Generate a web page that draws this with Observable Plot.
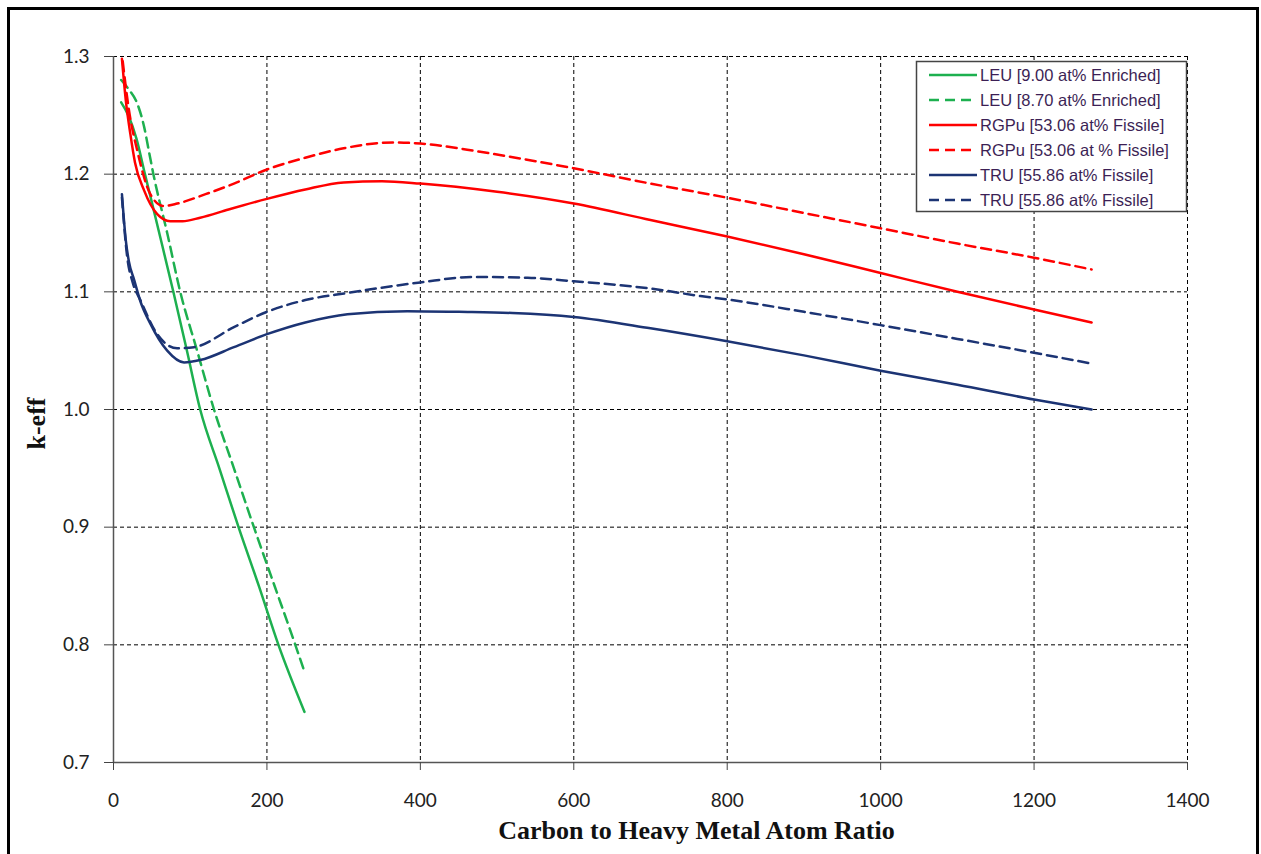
<!DOCTYPE html>
<html>
<head>
<meta charset="utf-8">
<script src="https://cdn.jsdelivr.net/npm/d3@7"></script>
<script src="https://cdn.jsdelivr.net/npm/@observablehq/plot@0.6"></script>
<style>
  html, body { margin: 0; padding: 0; background: #fff; }
  #wrap { position: relative; width: 1261px; height: 854px; overflow: hidden; }
  #border { position: absolute; left: 7px; top: 7px; width: 1252px; height: 900px;
            box-sizing: border-box; border: 3px solid #000; pointer-events: none; }
  #chart svg { display: block; }
</style>
</head>
<body>
<div id="wrap">
  <div id="chart"></div>
  <div id="border"></div>
</div>
<script>
// Axis ticks
const xTicks = [0, 200, 400, 600, 800, 1000, 1200, 1400];
const yTicks = [0.7, 0.8, 0.9, 1.0, 1.1, 1.2, 1.3];

// LEU, 9.00 at% enriched
const xLEU900 = [10, 20, 30, 41, 50, 60, 78, 95, 113, 138, 163, 190, 215, 249];
const yLEU900 = [1.261, 1.249, 1.230, 1.200, 1.176, 1.149, 1.100, 1.052, 1.000, 0.950, 0.900, 0.849, 0.800, 0.743];

// LEU, 8.70 at% enriched
const xLEU870 = [10, 20, 31, 40, 46, 52, 70, 87, 109, 131, 157, 183, 210, 237, 249];
const yLEU870 = [1.280, 1.272, 1.260, 1.240, 1.220, 1.200, 1.150, 1.100, 1.050, 1.000, 0.950, 0.900, 0.850, 0.800, 0.777];

// RGPu, 53.06 at% fissile (solid)
const xRGPuA = [11, 16, 22, 28, 40, 57, 74, 90, 113, 150, 200, 250, 300, 350, 400, 500, 600, 700, 800, 900, 1000, 1100, 1200, 1275];
const yRGPuA = [1.298, 1.263, 1.234, 1.210, 1.186, 1.166, 1.160, 1.160, 1.163, 1.170, 1.179, 1.187, 1.193, 1.194, 1.192, 1.185, 1.175, 1.161, 1.147, 1.132, 1.116, 1.100, 1.085, 1.074];

// RGPu, 53.06 at % fissile (dashed)
const xRGPuB = [12, 20, 31, 48, 65, 83, 120, 157, 200, 250, 300, 365, 400, 478, 550, 600, 700, 800, 900, 1000, 1100, 1200, 1275];
const yRGPuB = [1.296, 1.255, 1.220, 1.183, 1.173, 1.175, 1.183, 1.192, 1.204, 1.214, 1.222, 1.227, 1.226, 1.219, 1.211, 1.205, 1.192, 1.180, 1.167, 1.154, 1.141, 1.129, 1.119];

// TRU, 55.86 at% fissile (solid)
const xTRUA = [11, 16, 20, 27, 35, 48, 70, 92, 113, 157, 200, 250, 305, 383, 450, 520, 600, 700, 800, 900, 1000, 1100, 1200, 1275];
const yTRUA = [1.183, 1.144, 1.126, 1.110, 1.092, 1.073, 1.050, 1.040, 1.042, 1.053, 1.064, 1.074, 1.081, 1.0836, 1.083, 1.082, 1.0786, 1.069, 1.058, 1.046, 1.033, 1.021, 1.0085, 1.000];

// TRU, 55.86 at% fissile (dashed)
const xTRUB = [11, 18, 25, 35, 57, 83, 105, 157, 200, 250, 305, 400, 470, 540, 600, 709, 765, 800, 900, 1000, 1100, 1200, 1275];
const yTRUB = [1.180, 1.129, 1.108, 1.093, 1.064, 1.052, 1.053, 1.070, 1.083, 1.093, 1.099, 1.108, 1.1127, 1.112, 1.109, 1.102, 1.0964, 1.0935, 1.083, 1.0717, 1.060, 1.0482, 1.039];

// Series names and styles
const seriesNames = [
  "LEU [9.00 at% Enriched]",
  "LEU [8.70 at% Enriched]",
  "RGPu [53.06 at% Fissile]",
  "RGPu [53.06 at % Fissile]",
  "TRU [55.86 at% Fissile]",
  "TRU [55.86 at% Fissile]"
];
const seriesColors = ["#1db04f", "#1db04f", "#ff0000", "#ff0000", "#1c3474", "#1c3474"];
const seriesDashes = [null, "10,6", null, "10,6", null, "10,6"];
const seriesX = [xLEU900, xLEU870, xRGPuA, xRGPuB, xTRUA, xTRUB];
const seriesY = [yLEU900, yLEU870, yRGPuA, yRGPuB, yTRUA, yTRUB];

const series = seriesNames.map((name, i) =>
  seriesX[i].map((x, j) => ({x, y: seriesY[i][j], id: i}))
);

const tickFont = "Lato, 'Open Sans', sans-serif";
const titleFont = "'Liberation Serif', 'DejaVu Serif', serif";

const plot = Plot.plot({
  width: 1261,
  height: 854,
  marginLeft: 113,
  marginRight: 74,
  marginTop: 56,
  marginBottom: 92,
  style: {background: "transparent", overflow: "visible", fontFamily: tickFont, fontSize: "19px"},
  x: {domain: [0, 1400]},
  y: {domain: [0.7, 1.3]},
  marks: [
    Plot.gridX(xTicks.filter(d => d > 0), {stroke: "#000", strokeOpacity: 1, strokeDasharray: "4,3"}),
    Plot.gridY(yTicks.filter(d => d > 0.7), {stroke: "#000", strokeOpacity: 1, strokeDasharray: "4,3"}),
    Plot.ruleY([0.7], {stroke: "#555", strokeWidth: 1.5}),
    Plot.ruleX([0], {stroke: "#555", strokeWidth: 1.5}),
    Plot.axisX({ticks: xTicks, tickSize: 8, tickPadding: 23, label: null,
      tickFormat: d => String(d),
      stroke: "#444", fill: "#222", fontSize: 19, fontFamily: tickFont}),
    Plot.axisY({ticks: yTicks, tickSize: 9, tickPadding: 15, label: null,
      tickFormat: d3.format(".1f"),
      stroke: "#444", fill: "#222", fontSize: 19, fontFamily: tickFont}),
    ...series.map((data, i) => Plot.line(data, {
      x: "x", y: "y",
      stroke: seriesColors[i],
      strokeWidth: 2.5,
      strokeDasharray: seriesDashes[i],
      curve: "monotone-x",
      clip: true
    })),
    Plot.text(["Carbon to Heavy Metal Atom Ratio"], {
      frameAnchor: "bottom", dx: 46, dy: 68, lineAnchor: "middle",
      fontFamily: titleFont, fontWeight: "bold", fontSize: 26, fill: "#111"
    }),
    Plot.text(["k-eff"], {
      frameAnchor: "left", dx: -77, dy: 40, rotate: -90, lineAnchor: "middle",
      fontFamily: titleFont, fontWeight: "bold", fontSize: 26, fill: "#111"
    })
  ]
});

document.getElementById("chart").appendChild(plot);

// Legend box in the upper-right corner of the plotting area
const svg = d3.select(plot);
const lg = svg.append("g").attr("class", "legend").attr("text-anchor", "start");
lg.append("rect")
  .attr("x", 916.5).attr("y", 61.5)
  .attr("width", 270).attr("height", 150)
  .attr("fill", "#fff").attr("stroke", "#444").attr("stroke-width", 1.5);
seriesNames.forEach((name, i) => {
  const cy = 75 + i * 25;
  lg.append("line")
    .attr("x1", 929).attr("x2", 977).attr("y1", cy).attr("y2", cy)
    .attr("stroke", seriesColors[i]).attr("stroke-width", 2.5)
    .attr("stroke-dasharray", seriesDashes[i] || null);
  lg.append("text")
    .attr("x", 980).attr("y", cy).attr("dy", "0.35em")
    .attr("text-anchor", "start")
    .attr("font-family", "'Liberation Sans', Arial, sans-serif")
    .attr("font-size", 16.5)
    .attr("fill", "#3c1f55")
    .text(name);
});
</script>
</body>
</html>
